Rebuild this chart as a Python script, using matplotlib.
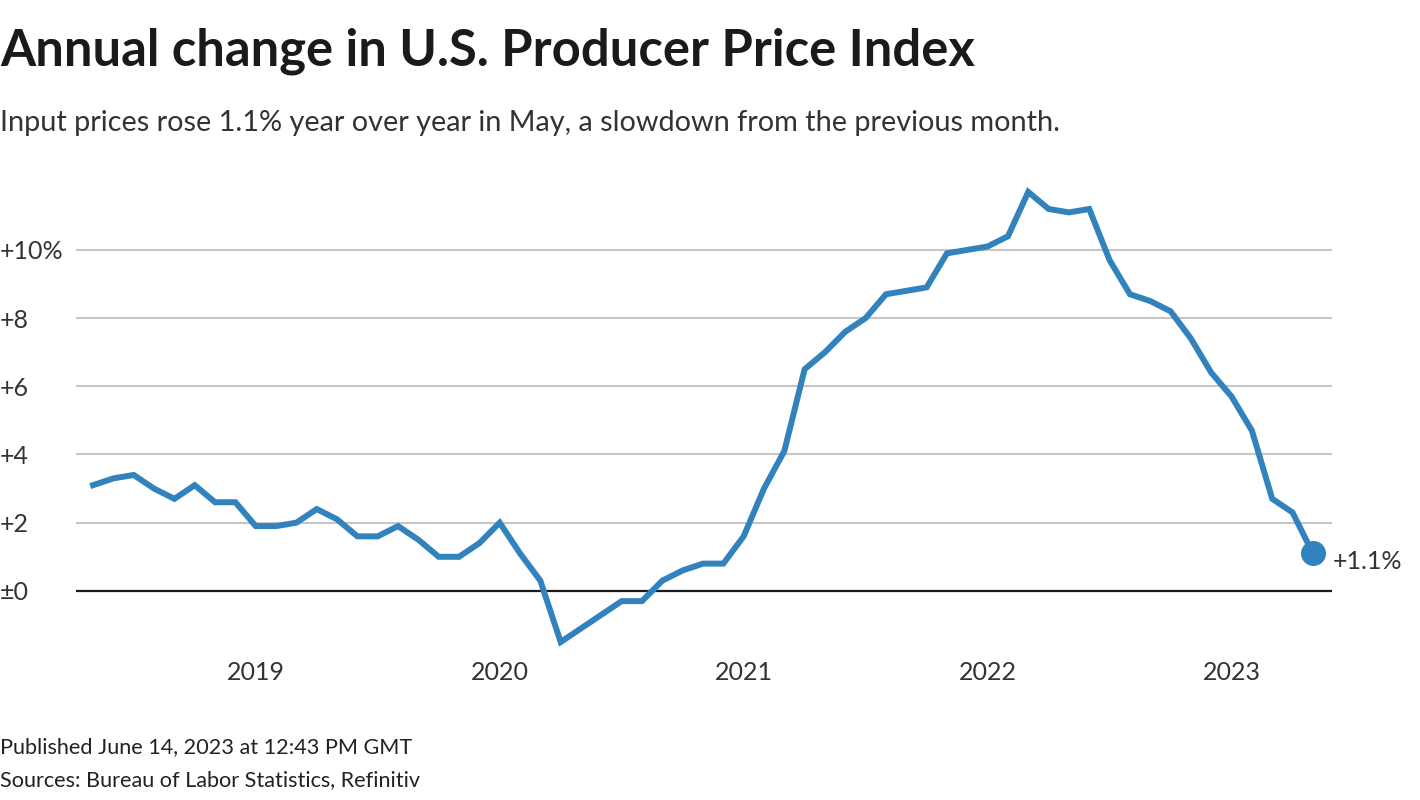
import matplotlib.pyplot as plt

# Monthly data, May 2018 - May 2023 (annual % change, PPI)
start_year, start_month = 2018, 5
ppi_change = [
    3.1, 3.3, 3.4, 3.0, 2.7, 3.1, 2.6, 2.6,            # 2018 May-Dec
    1.9, 1.9, 2.0, 2.4, 2.1, 1.6, 1.6, 1.9, 1.5, 1.0, 1.0, 1.4,   # 2019
    2.0, 1.1, 0.3, -1.5, -1.1, -0.7, -0.3, -0.3, 0.3, 0.6, 0.8, 0.8,  # 2020
    1.6, 3.0, 4.1, 6.5, 7.0, 7.6, 8.0, 8.7, 8.8, 8.9, 9.9, 10.0,  # 2021
    10.1, 10.4, 11.7, 11.2, 11.1, 11.2, 9.7, 8.7, 8.5, 8.2, 7.4, 6.4,  # 2022
    5.7, 4.7, 2.7, 2.3, 1.1,                            # 2023 Jan-May
]
year_labels = ['2019', '2020', '2021', '2022', '2023']
y_ticks = [0, 2, 4, 6, 8, 10]
y_tick_labels = ['±0', '+2', '+4', '+6', '+8', '+10%']

plt.rcParams['font.family'] = ['Lato', 'DejaVu Sans']

blue = '#3182bd'
months = list(range(len(ppi_change)))
# index of January of each labelled year
jan_idx = [(12 - start_month + 1) + 12 * k for k in range(len(year_labels))]

fig = plt.figure(figsize=(14.2, 8), dpi=100)
ax = fig.add_axes([76 / 1420, 1 - 655 / 800, (1332 - 76) / 1420, (655 - 180) / 800])

ax.plot(months, ppi_change, color=blue, lw=4.3, solid_joinstyle='miter', zorder=3)
ax.plot(months[-1], ppi_change[-1], 'o', color=blue, ms=17, zorder=4)
ax.annotate(f'+{ppi_change[-1]}%', (months[-1], ppi_change[-1]),
            xytext=(14, -6), textcoords='offset points', ha='left', va='center',
            fontsize=18, color='#333333')

ax.set_xlim(-0.84, 60.94)
ax.set_ylim(-1.88, 12.05)

for v in y_ticks[1:]:
    ax.axhline(v, color='#c6c6c6', lw=1.5, zorder=1)
ax.axhline(0, color='#1a1a1a', lw=1.6, zorder=2)

ax.set_yticks(y_ticks)
ax.set_yticklabels(y_tick_labels)
ax.set_xticks(jan_idx)
ax.set_xticklabels(year_labels)
ax.tick_params(axis='both', length=0, labelsize=18, labelcolor='#333333')
ax.tick_params(axis='y', pad=55)
for lbl in ax.get_yticklabels():
    lbl.set_ha('left')
ax.tick_params(axis='x', pad=4)

for s in ax.spines.values():
    s.set_visible(False)

fig.text(0, 1 - 51 / 800, 'Annual change in U.S. Producer Price Index',
         fontsize=36.5, fontweight='bold', color='#1a1a1a', va='center', ha='left')
fig.text(0, 1 - 123 / 800,
         'Input prices rose 1.1% year over year in May, a slowdown from the previous month.',
         fontsize=20.8, color='#333333', va='center', ha='left')
fig.text(0, 1 - 747 / 800, 'Published June 14, 2023 at 12:43 PM GMT',
         fontsize=15.6, color='#222222', va='center', ha='left')
fig.text(0, 1 - 780 / 800, 'Sources: Bureau of Labor Statistics, Refinitiv',
         fontsize=15.6, color='#222222', va='center', ha='left')

fig.savefig('out.png', dpi=100)
